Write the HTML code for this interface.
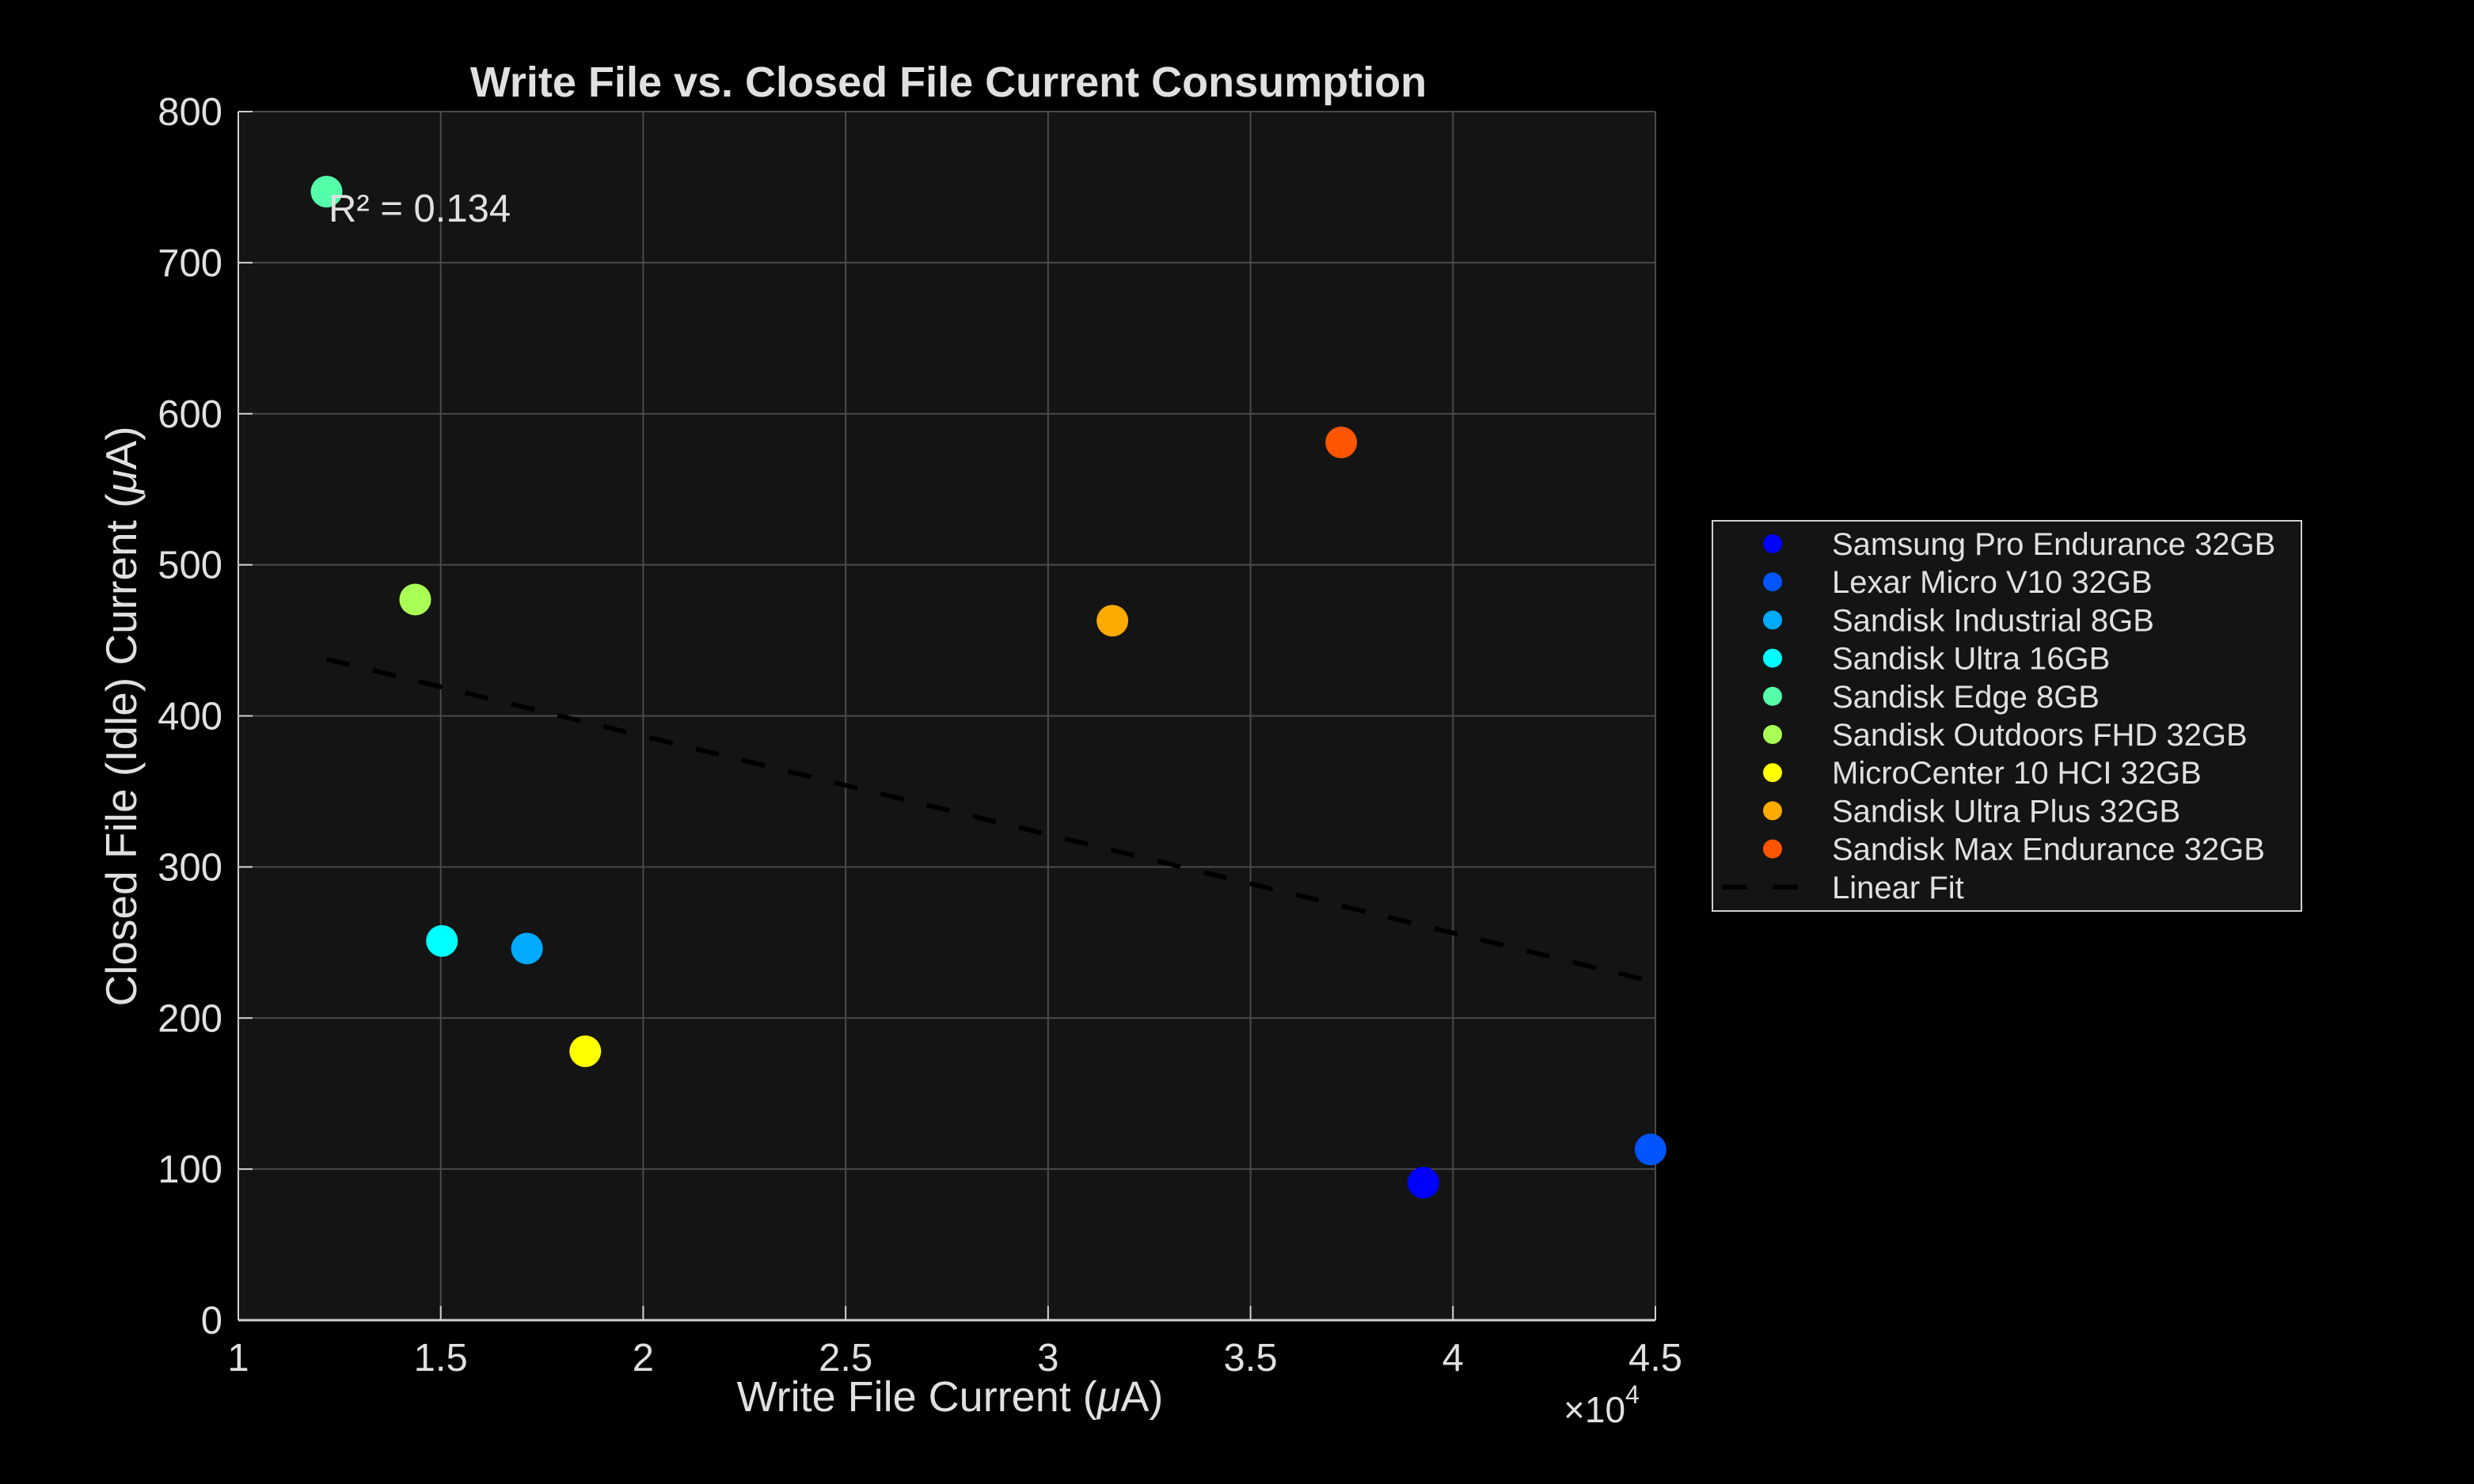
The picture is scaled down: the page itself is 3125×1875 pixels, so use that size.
<!DOCTYPE html>
<html><head><meta charset="utf-8"><style>
html,body{margin:0;padding:0;background:#000;}
svg{display:block;font-family:"Liberation Sans",sans-serif;}
</style></head><body>
<svg id="chart" width="3125" height="1875" viewBox="0 0 3125 1875" xmlns="http://www.w3.org/2000/svg">
<rect x="0" y="0" width="3125" height="1875" fill="#000"/>
<rect x="301" y="141" width="1790" height="1527" fill="#141414"/>
<g id="grid"></g>
<g id="fit"></g>
<g id="pts"></g>
<g id="axes"></g>
<text x="1198" y="122" font-size="54" font-weight="bold" fill="#e0e0e0" text-anchor="middle">Write File vs. Closed File Current Consumption</text>
<text x="1200" y="1783" font-size="54" fill="#e0e0e0" text-anchor="middle">Write File Current (<tspan font-style="italic">μ</tspan>A)</text>
<text transform="translate(172,905) rotate(-90)" font-size="55" fill="#e0e0e0" text-anchor="middle">Closed File (Idle) Current (<tspan font-style="italic">μ</tspan>A)</text>
<text x="1975" y="1797" font-size="46" fill="#e0e0e0">×10<tspan dy="-24" font-size="32">4</tspan></text>
<text x="415" y="280" font-size="49" fill="#e0e0e0">R² = 0.134</text>
<g id="legend">
<rect x="2163" y="658" width="744" height="493" fill="#141414" stroke="#d0d0d0" stroke-width="2"/>
</g>
</svg>
<script>
const names = ["Samsung Pro Endurance 32GB","Lexar Micro V10 32GB","Sandisk Industrial 8GB","Sandisk Ultra 16GB","Sandisk Edge 8GB","Sandisk Outdoors FHD 32GB","MicroCenter 10 HCI 32GB","Sandisk  Ultra Plus 32GB","Sandisk Max Endurance 32GB"];
const writeCurrent = [39270,44880,17130,15030,12180,14370,18570,31590,37240];
const idleCurrent = [91,113,246,251,747,477,178,463,581];
const colors = ["#0000ff","#0055ff","#00aaff","#00ffff","#55ffaa","#aaff55","#ffff00","#ffaa00","#ff5500"];
const fitX = [12180,44880];
const fitY = [437.6,224.5];
const xTicks = [10000,15000,20000,25000,30000,35000,40000,45000];
const xTickLabels = ["1","1.5","2","2.5","3","3.5","4","4.5"];
const yTicks = [0,100,200,300,400,500,600,700,800];

const NS="http://www.w3.org/2000/svg";
const L=301,R=2091,T=141,B=1668;
const xs=v=>L+(v-10000)/(45000-10000)*(R-L);
const ys=v=>B-(v/800)*(B-T);
function mk(tag,attrs,parent){const e=document.createElementNS(NS,tag);for(const k in attrs)e.setAttribute(k,attrs[k]);parent.appendChild(e);return e;}
const grid=document.getElementById('grid'),axes=document.getElementById('axes');
xTicks.forEach((t,i)=>{
  const g=mk('line',{x1:xs(t),x2:xs(t),y1:T,y2:B,stroke:'#4a4a4a','stroke-width':2},grid);
  
  
  const tk=mk('line',{x1:xs(t),x2:xs(t),y1:B,y2:B-18,stroke:'#d0d0d0','stroke-width':2},axes);
  
  
  const lb=mk('text',{x:xs(t),y:B+64,'font-size':49,fill:'#e0e0e0','text-anchor':'middle'},axes);
  lb.textContent=xTickLabels[i];
  
  
});
yTicks.forEach(t=>{
  const g=mk('line',{x1:L,x2:R,y1:ys(t),y2:ys(t),stroke:'#4a4a4a','stroke-width':2},grid);
  
  
  const tk=mk('line',{x1:L,x2:L+18,y1:ys(t),y2:ys(t),stroke:'#d0d0d0','stroke-width':2},axes);
  
  
  const lb=mk('text',{x:L-20,y:ys(t)+17,'font-size':49,fill:'#e0e0e0','text-anchor':'end'},axes);
  lb.textContent=String(t);
  
  
});
const ax1=mk('line',{x1:L,x2:L,y1:T,y2:B,stroke:'#d0d0d0','stroke-width':2},axes);


const ax2=mk('line',{x1:L,x2:R,y1:B,y2:B,stroke:'#d0d0d0','stroke-width':3},axes);


const fl=mk('line',{x1:xs(fitX[0]),y1:ys(fitY[0]),x2:xs(fitX[1]),y2:ys(fitY[1]),stroke:'#000','stroke-width':6,'stroke-dasharray':'30 30'},document.getElementById('fit'));


const pts=document.getElementById('pts'),leg=document.getElementById('legend');
names.forEach((n,i)=>{
  const c=mk('circle',{cx:xs(writeCurrent[i]),cy:ys(idleCurrent[i]),r:20,fill:colors[i]},pts);
  
  
  const y=687+i*48.2;
  const m=mk('circle',{cx:2239,cy:y,r:12,fill:colors[i]},leg);
  
  
  const t=mk('text',{x:2314,y:y+14,'font-size':40,fill:'#e0e0e0','xml:space':'preserve'},leg);
  t.textContent=n;
  
  
});
const ly=687+9*48.2;
const lf=mk('line',{x1:2175,x2:2271,y1:ly,y2:ly,stroke:'#000','stroke-width':6,'stroke-dasharray':'32 32'},leg);


const lt=mk('text',{x:2314,y:ly+14,'font-size':40,fill:'#e0e0e0'},leg);
lt.textContent='Linear Fit';


</script>
</body></html>
